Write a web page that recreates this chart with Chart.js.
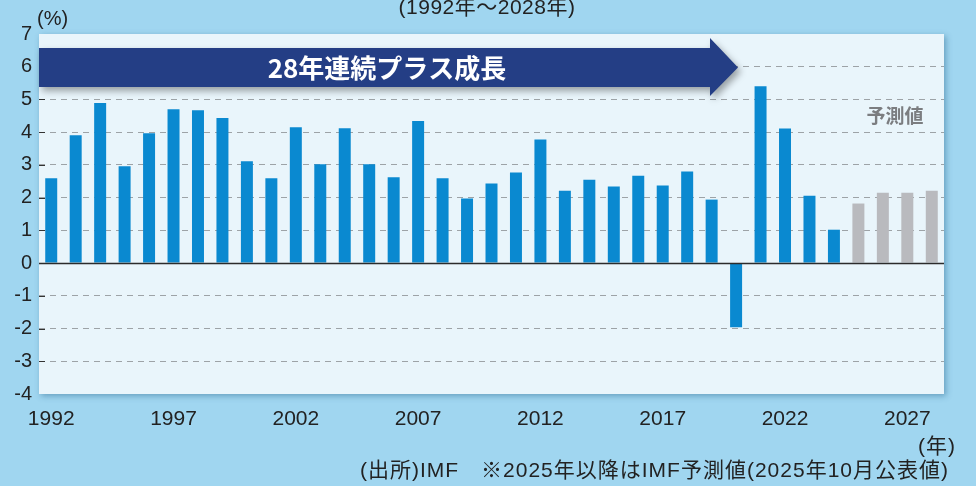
<!DOCTYPE html>
<html lang="ja">
<head>
<meta charset="utf-8">
<script src="https://cdn.jsdelivr.net/npm/chart.js@4.4.1/dist/chart.umd.min.js"></script>
<style>
  html, body { margin: 0; padding: 0; background: #a0d6f0; }
  canvas { display: block; }
</style>
</head>
<body>
<canvas id="viz" width="976" height="486"></canvas>
<script>
// Australia real GDP growth (%), IMF; 2025 onward are forecasts
const years = [1992, 1993, 1994, 1995, 1996, 1997, 1998, 1999, 2000, 2001,
  2002, 2003, 2004, 2005, 2006, 2007, 2008, 2009, 2010, 2011,
  2012, 2013, 2014, 2015, 2016, 2017, 2018, 2019, 2020, 2021,
  2022, 2023, 2024, 2025, 2026, 2027, 2028];
const growth = [2.59, 3.91, 4.89, 2.96, 3.97, 4.70, 4.67, 4.43, 3.11, 2.59,
  4.15, 3.02, 4.12, 3.02, 2.62, 4.34, 2.59, 1.97, 2.43, 2.77,
  3.78, 2.21, 2.55, 2.34, 2.67, 2.37, 2.80, 1.94, -1.96, 5.40,
  4.11, 2.06, 1.02, 1.82, 2.15, 2.15, 2.21];
const forecastFrom = 2025;
const xTickLabels = ['1992', '1997', '2002', '2007', '2012', '2017', '2022', '2027'];
const yTickValues = [-4, -3, -2, -1, 0, 1, 2, 3, 4, 5, 6, 7];

const titleText = '(1992年～2028年)';
const bannerText = '28年連続プラス成長';
const forecastText = '予測値';
const footerText = '(出所)IMF　※2025年以降はIMF予測値(2025年10月公表値)';

const FONT = "'Liberation Sans', 'Noto Sans CJK JP', sans-serif";
const JP = "'Noto Sans CJK JP', sans-serif";

const BLUE = '#0a89d0';
const GREY = '#b9babe';

const barColors = years.map(y => y >= forecastFrom ? GREY : BLUE);

// background, plot panel, zero line, banner and notes
const decor = {
  id: 'decor',
  beforeDraw(chart) {
    const { ctx, chartArea: a } = chart;
    ctx.save();
    ctx.fillStyle = '#a0d6f0';
    ctx.fillRect(0, 0, chart.width, chart.height);
    ctx.shadowColor = 'rgba(30, 90, 130, 0.45)';
    ctx.shadowBlur = 6;
    ctx.shadowOffsetX = 2;
    ctx.shadowOffsetY = 2;
    ctx.fillStyle = '#e9f5fb';
    ctx.fillRect(a.left, a.top, a.right - a.left, a.bottom - a.top);
    ctx.restore();
  },
  afterDatasetsDraw(chart) {
    const { ctx, chartArea: a, scales } = chart;
    const ys = scales.y;
    ctx.save();

    // small inward ticks on the y axis
    ctx.strokeStyle = '#333';
    ctx.lineWidth = 1;
    yTickValues.forEach(v => {
      if (v === 0 || v === 7 || v === -4) return;
      const py = Math.round(ys.getPixelForValue(v)) + 0.5;
      ctx.beginPath();
      ctx.moveTo(a.left, py);
      ctx.lineTo(a.left + 6, py);
      ctx.stroke();
    });

    // zero line
    const z = Math.round(ys.getPixelForValue(0)) + 0.5;
    ctx.strokeStyle = '#2b2b2b';
    ctx.lineWidth = 1.5;
    ctx.beginPath();
    ctx.moveTo(a.left, z);
    ctx.lineTo(a.right, z);
    ctx.stroke();

    // banner arrow
    const bodyTop = 48, bodyBot = 87, headX = 710, tipX = 738, headTop = 38, headBot = 96;
    const mid = (bodyTop + bodyBot) / 2;
    ctx.save();
    ctx.shadowColor = 'rgba(0, 0, 0, 0.35)';
    ctx.shadowBlur = 7;
    ctx.shadowOffsetX = 3;
    ctx.shadowOffsetY = 4;
    ctx.fillStyle = '#243e85';
    ctx.beginPath();
    ctx.moveTo(a.left, bodyTop);
    ctx.lineTo(headX, bodyTop);
    ctx.lineTo(headX, headTop);
    ctx.lineTo(tipX, mid);
    ctx.lineTo(headX, headBot);
    ctx.lineTo(headX, bodyBot);
    ctx.lineTo(a.left, bodyBot);
    ctx.closePath();
    ctx.fill();
    ctx.restore();

    ctx.fillStyle = '#ffffff';
    ctx.font = 'bold 26px ' + JP;
    ctx.textAlign = 'center';
    ctx.textBaseline = 'middle';
    ctx.fillText(bannerText, 387, mid + 1);

    // forecast label
    ctx.fillStyle = '#7b7d80';
    ctx.font = 'bold 19px ' + JP;
    ctx.fillText(forecastText, 895, 116);

    // unit labels, title, footer
    ctx.fillStyle = '#222';
    ctx.font = '20px ' + FONT;
    ctx.textAlign = 'left';
    ctx.fillText('(%)', 37, 19);
    ctx.textAlign = 'right';
    ctx.font = '21px ' + FONT;
    ctx.letterSpacing = '1px';
    ctx.fillText('(年)', 956, 447);
    ctx.fillText(footerText, 949, 471);
    ctx.letterSpacing = '0.5px';
    ctx.textAlign = 'center';
    ctx.textBaseline = 'alphabetic';
    ctx.fillText(titleText, 487, 14);
    ctx.letterSpacing = '0px';

    ctx.restore();
  }
};

const ctx = document.getElementById('viz');

new Chart(ctx, {
  type: 'bar',
  data: {
    labels: years.map(String),
    datasets: [{
      label: 'GDP成長率',
      data: growth,
      backgroundColor: barColors,
      borderWidth: 0,
      barPercentage: 0.49,
      categoryPercentage: 1.0
    }]
  },
  options: {
    responsive: false,
    animation: false,
    devicePixelRatio: 1,
    layout: { padding: { left: 0, top: 34, right: 32, bottom: 52 } },
    plugins: {
      legend: { display: false },
      tooltip: { enabled: false }
    },
    scales: {
      x: {
        grid: { display: false, drawTicks: false },
        border: { display: false },
        afterFit: s => { s.height = 40; },
        ticks: {
          autoSkip: false,
          maxRotation: 0,
          padding: 13,
          color: '#222',
          font: { family: FONT, size: 21 },
          callback: (v, i) => xTickLabels.includes(String(years[i])) ? String(years[i]) : ''
        }
      },
      y: {
        min: -4,
        max: 7,
        afterFit: s => { s.width = 39; },
        afterBuildTicks: s => { s.ticks = yTickValues.map(v => ({ value: v })); },
        grid: {
          drawTicks: false,
          lineWidth: 1,
          color: c => (c.tick.value === 0 || c.tick.value === 7 || c.tick.value === -4) ? 'rgba(0,0,0,0)' : '#9da3a7'
        },
        border: { display: false, dash: [6, 5] },
        ticks: {
          padding: 7,
          color: '#222',
          font: { family: FONT, size: 20 },
          callback: v => String(v)
        }
      }
    }
  },
  plugins: [decor]
});
</script>
</body>
</html>
